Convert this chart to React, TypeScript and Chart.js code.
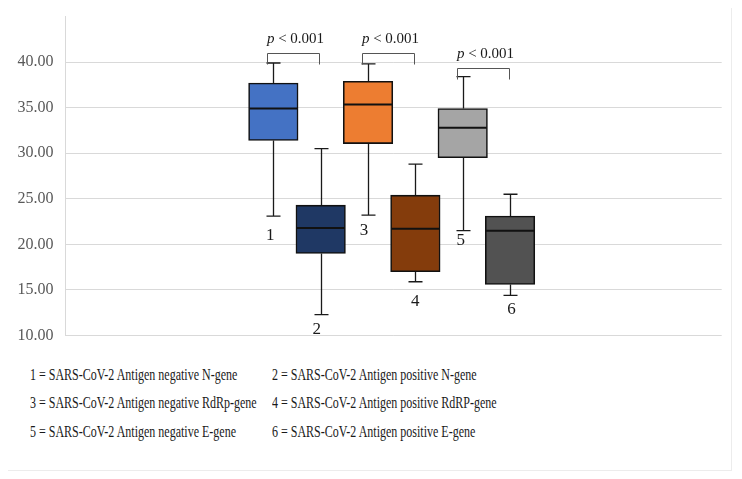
import React, { useEffect, useRef } from "react";
import { Chart, registerables } from "chart.js";

Chart.register(...registerables);

const boxIds = ["1", "2", "3", "4", "5", "6"];
const positions = [1, 2, 3, 4, 5, 6];
const whiskerLow = [23.1, 12.3, 23.2, 15.9, 21.5, 14.4];
const q1 = [31.4, 19.0, 31.05, 17.0, 29.5, 15.6];
const median = [34.9, 21.8, 35.35, 21.7, 32.8, 21.5];
const q3 = [37.7, 24.3, 37.9, 25.4, 34.9, 23.1];
const whiskerHigh = [39.9, 30.5, 39.8, 28.8, 38.4, 25.5];
const boxColors = ["#4472C4", "#1F3864", "#ED7D31", "#843C0C", "#A5A5A5", "#525252"];

const bracketPairs = [[1, 2], [3, 4], [5, 6]];
const bracketLevels = [41.0, 41.0, 39.3];
const bracketText = "p < 0.001";

const yTicks = [10, 15, 20, 25, 30, 35, 40];

const legendRows = [
  ["1 = SARS-CoV-2 Antigen negative N-gene", "2 = SARS-CoV-2 Antigen positive N-gene"],
  ["3 = SARS-CoV-2 Antigen negative RdRp-gene", "4 = SARS-CoV-2 Antigen positive RdRP-gene"],
  ["5 = SARS-CoV-2 Antigen negative E-gene", "6 = SARS-CoV-2 Antigen positive E-gene"],
];

const labelDx = [-3, -4, -4, 0, -2, 1.5];
const labelDy = [24, 19, 20, 24.3, 14.7, 19];

const SERIF = "'Liberation Serif', 'Times New Roman', serif";

const boxPlugin = {
  id: "boxExtras",
  beforeDatasetsDraw(chart: any) {
    const { ctx } = chart;
    const xs = chart.scales.x;
    const ys = chart.scales.y;
    ctx.save();
    ctx.strokeStyle = "#1a1a1a";
    ctx.lineWidth = 1.3;
    positions.forEach((p, i) => {
      const x = Math.round(xs.getPixelForValue(p)) + 0.5;
      const yl = ys.getPixelForValue(whiskerLow[i]);
      const yh = ys.getPixelForValue(whiskerHigh[i]);
      const y1 = ys.getPixelForValue(q1[i]);
      const y3 = ys.getPixelForValue(q3[i]);
      ctx.beginPath();
      ctx.moveTo(x, y3);
      ctx.lineTo(x, yh);
      ctx.moveTo(x - 7, yh);
      ctx.lineTo(x + 7, yh);
      ctx.moveTo(x, y1);
      ctx.lineTo(x, yl);
      ctx.moveTo(x - 7, yl);
      ctx.lineTo(x + 7, yl);
      ctx.stroke();
    });
    ctx.restore();
  },
  afterDatasetsDraw(chart: any) {
    const { ctx } = chart;
    const xs = chart.scales.x;
    const ys = chart.scales.y;
    ctx.save();
    ctx.strokeStyle = "#111";
    ctx.lineWidth = 2;
    positions.forEach((p, i) => {
      const x = xs.getPixelForValue(p);
      const ym = ys.getPixelForValue(median[i]);
      ctx.beginPath();
      ctx.moveTo(x - 24, ym);
      ctx.lineTo(x + 24, ym);
      ctx.stroke();
    });
    ctx.fillStyle = "#1a1a1a";
    ctx.font = `17px ${SERIF}`;
    ctx.textAlign = "center";
    ctx.textBaseline = "alphabetic";
    positions.forEach((p, i) => {
      const x = xs.getPixelForValue(p) + labelDx[i];
      const y = ys.getPixelForValue(whiskerLow[i]) + labelDy[i];
      ctx.fillText(boxIds[i], x, y);
    });
    bracketPairs.forEach((pair, i) => {
      const xa = Math.round(xs.getPixelForValue(pair[0]) - 6) + 0.5;
      const xb = Math.round(xs.getPixelForValue(pair[1]) - 1.5) + 0.5;
      const yb = Math.round(ys.getPixelForValue(bracketLevels[i])) + 0.5;
      ctx.strokeStyle = "#555";
      ctx.lineWidth = 1;
      ctx.beginPath();
      ctx.moveTo(xa, yb + 11);
      ctx.lineTo(xa, yb);
      ctx.lineTo(xb, yb);
      ctx.lineTo(xb, yb + 11);
      ctx.stroke();
      const [pPart, ...rest] = bracketText.split(" ");
      const restText = " " + rest.join(" ");
      ctx.font = `italic 15px ${SERIF}`;
      const wp = ctx.measureText(pPart).width;
      ctx.font = `15px ${SERIF}`;
      const wr = ctx.measureText(restText).width;
      const cx = (xa + xb) / 2 + 2;
      const start = cx - (wp + wr) / 2;
      const by = yb - 10.3;
      ctx.textAlign = "left";
      ctx.fillStyle = "#1a1a1a";
      ctx.font = `italic 15px ${SERIF}`;
      ctx.fillText(pPart, start, by);
      ctx.font = `15px ${SERIF}`;
      ctx.fillText(restText, start + wp, by);
    });
    ctx.restore();
  },
};

export default function App() {
  const ref = useRef<HTMLCanvasElement | null>(null);
  useEffect(() => {
    if (!ref.current) return;
    const chart = new Chart(ref.current, {
      type: "bar",
      data: {
        datasets: [
          {
            label: "IQR",
            data: positions.map((p, i) => ({ x: p, y: [q1[i], q3[i]] })) as any,
            backgroundColor: boxColors,
            borderColor: "#111",
            borderWidth: 1.6,
            borderSkipped: false,
            barThickness: 49.5,
          },
        ],
      },
      options: {
        animation: false,
        responsive: false,
        layout: { padding: { top: 8.5, right: 9.3, bottom: 17.9, left: 0 } },
        plugins: { legend: { display: false }, tooltip: { enabled: false } },
        scales: {
          x: {
            type: "linear",
            min: -2.41,
            max: 9.48,
            display: false,
          },
          y: {
            min: 10,
            max: 45,
            afterFit(s: any) {
              s.width = 57;
            },
            afterBuildTicks(s: any) {
              s.ticks = [...yTicks, 45].map((v) => ({ value: v }));
            },
            border: { display: true, color: "#d9d9d9", width: 1 },
            grid: {
              drawTicks: false,
              color: (c: any) => (c.tick && c.tick.value === 45 ? "rgba(0,0,0,0)" : "#d9d9d9"),
              lineWidth: 1,
            },
            ticks: {
              padding: 11.5,
              color: "#595959",
              font: { family: SERIF, size: 16, lineHeight: 1 },
              callback: (v: any) => (v === 45 ? "" : Number(v).toFixed(2)),
            },
          },
        },
      },
      plugins: [boxPlugin],
    });
    return () => chart.destroy();
  }, []);

  const rowTops = [357, 385.3, 413.7];
  const colLefts = [22, 263.7];

  return (
    <div
      style={{
        position: "relative",
        width: 723,
        height: 462,
        borderRight: "1px solid #ececec",
        borderBottom: "1px solid #ececec",
        fontFamily: SERIF,
      }}
    >
      <canvas
        ref={ref}
        width={723}
        height={358}
        style={{ position: "absolute", left: 0, top: -11, width: 723, height: 358 }}
      />
      {legendRows.map((row, r) =>
        row.map((txt, c) => (
          <div
            key={`${r}-${c}`}
            style={{
              position: "absolute",
              left: colLefts[c],
              top: rowTops[r],
              fontSize: 16,
              lineHeight: "20px",
              color: "#1a1a1a",
              whiteSpace: "nowrap",
              transform: "scaleX(0.75)",
              transformOrigin: "left center",
            }}
          >
            {txt}
          </div>
        ))
      )}
    </div>
  );
}
